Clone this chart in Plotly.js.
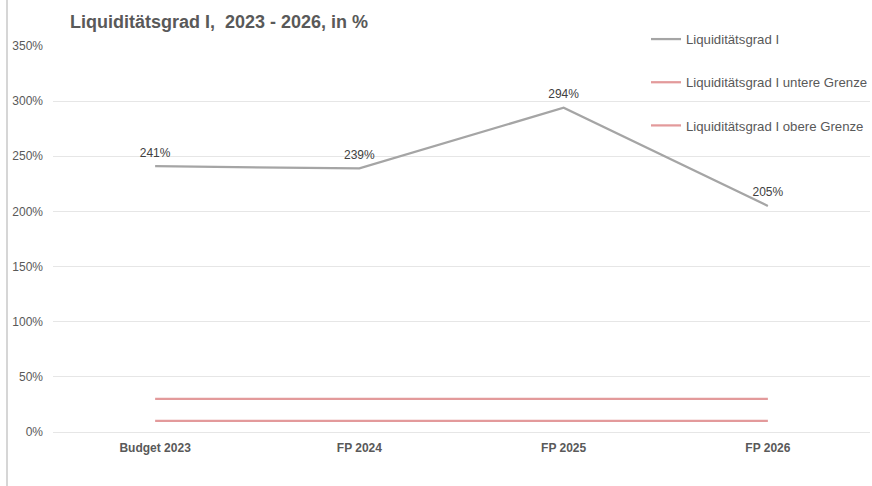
<!DOCTYPE html>
<html>
<head>
<meta charset="utf-8">
<script src="https://cdn.plot.ly/plotly-3.0.1.min.js"></script>
<style>html,body{margin:0;padding:0;background:#fff;}#chart{width:872px;height:486px;}</style>
</head>
<body>
<div id="chart"></div>
<script>
const categories = ["Budget 2023", "FP 2024", "FP 2025", "FP 2026"];
const liquiditaet = [241, 239, 294, 205];
const untereGrenze = [10, 10, 10, 10];
const obereGrenze = [30, 30, 30, 30];
const seriesNames = ["Liquiditätsgrad I", "Liquiditätsgrad I untere Grenze", "Liquiditätsgrad I obere Grenze"];
const titleText = "Liquiditätsgrad I,  2023 - 2026, in %";

const font = "Liberation Sans, Arial, sans-serif";
const traces = [
  {
    x: categories, y: liquiditaet, name: seriesNames[0], type: "scatter",
    mode: "lines+markers+text",
    marker: {size: 9, color: "rgba(0,0,0,0)", line: {width: 0}},
    text: liquiditaet.map(v => v + "%"),
    textposition: "top center",
    textfont: {family: font, size: 12, color: "#404040"},
    line: {color: "#a5a5a5", width: 2.25},
    legendgroup: "a", cliponaxis: false
  },
  {
    x: categories, y: untereGrenze, name: seriesNames[1], type: "scatter",
    mode: "lines", line: {color: "#e39a9b", width: 2.25}, legendgroup: "b"
  },
  {
    x: categories, y: obereGrenze, name: seriesNames[2], type: "scatter",
    mode: "lines", line: {color: "#e39a9b", width: 2.25}, legendgroup: "c"
  }
];

const layout = {
  width: 872, height: 486,
  margin: {l: 53, r: 2, t: 46, b: 54, autoexpand: false},
  paper_bgcolor: "#ffffff", plot_bgcolor: "#ffffff",
  font: {family: font, size: 12, color: "#595959"},
  title: {
    text: "<b>" + titleText + "</b>",
    font: {family: font, size: 18, color: "#595959"},
    xref: "container", yref: "container",
    x: 70/872, xanchor: "left", y: 1 - 22/486, yanchor: "middle"
  },
  xaxis: {
    type: "category", range: [-0.5, 3.5],
    showgrid: false, zeroline: false, showline: false,
    tickfont: {family: font, size: 12, color: "#595959", weight: "bold"},
    ticks: "", ticklabelstandoff: 7
  },
  yaxis: {
    range: [0, 350], dtick: 50, ticksuffix: "%",
    showgrid: true, gridcolor: "#e6e6e6", gridwidth: 1,
    zeroline: true, zerolinecolor: "#e6e6e6", zerolinewidth: 1,
    showline: false, ticks: "", ticklabelstandoff: 9,
    tickfont: {family: font, size: 12, color: "#595959"}
  },
  legend: {
    xref: "container", yref: "container",
    x: 646 / 872, xanchor: "left",
    y: 1 - 24/486, yanchor: "top",
    traceorder: "grouped", tracegroupgap: 23,
    bgcolor: "rgba(0,0,0,0)",
    font: {family: font, size: 13.2, color: "#595959"},
    itemwidth: 30
  },
  showlegend: true,
  shapes: [
    {type: "line", xref: "paper", yref: "paper",
     x0: (7 - 53) / 817, x1: (7 - 53) / 817, y0: -54/386, y1: 1 + 46/386,
     line: {color: "#c8c8c8", width: 1.5}}
  ]
};

Plotly.newPlot("chart", traces, layout, {displayModeBar: false, staticPlot: true});
</script>
</body>
</html>
